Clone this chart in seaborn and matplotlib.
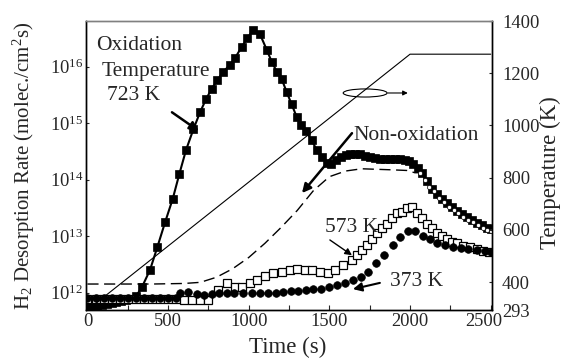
import numpy as np
import matplotlib
matplotlib.use("Agg")
import matplotlib.pyplot as plt
from matplotlib.patches import Ellipse
from matplotlib.transforms import ScaledTranslation
from matplotlib.ticker import MultipleLocator, NullLocator, FixedLocator
import seaborn as sns

# oxidation at 723 K (filled squares), log10 of rate
ox_time = [0, 30, 60, 90, 120, 150, 180, 210, 240, 270, 300, 337, 388, 433, 481, 529,
           570, 611, 657, 698, 735, 771, 806, 843, 884, 915, 957, 991, 1029, 1070,
           1111, 1143, 1174, 1204, 1235, 1266, 1297, 1322, 1355, 1390, 1421, 1452,
           1483, 1510, 1540, 1570, 1600, 1630, 1660, 1690, 1720, 1752, 1783, 1814,
           1845, 1876, 1907, 1938, 1968, 1995, 2021, 2047, 2073, 2104, 2135, 2166,
           2197, 2228, 2259, 2290, 2320, 2351, 2382, 2413, 2444, 2475, 2500]
ox_log = [11.74, 11.75, 11.76, 11.78, 11.79, 11.81, 11.83, 11.85, 11.87, 11.89, 11.93,
          12.09, 12.40, 12.80, 13.24, 13.66, 14.10, 14.52, 14.89, 15.19, 15.42, 15.61,
          15.76, 15.91, 16.03, 16.15, 16.35, 16.50, 16.65, 16.57, 16.30, 16.08, 15.91,
          15.78, 15.55, 15.33, 15.11, 14.96, 14.85, 14.70, 14.52, 14.40, 14.30, 14.28,
          14.34, 14.40, 14.44, 14.46, 14.46, 14.45, 14.42, 14.40, 14.38, 14.37, 14.37,
          14.37, 14.37, 14.36, 14.35, 14.33, 14.28, 14.20, 14.12, 13.97, 13.84, 13.74,
          13.66, 13.58, 13.51, 13.45, 13.39, 13.33, 13.28, 13.23, 13.19, 13.15, 13.12]

# non-oxidation (dashed), tail hidden under the oxidation squares
non_time = [0, 200, 400, 600, 700, 800, 900, 1000, 1100, 1200, 1300, 1400, 1500,
            1600, 1700, 1800, 1900, 1980, 2030]
non_log = [12.15, 12.15, 12.15, 12.16, 12.18, 12.27, 12.42, 12.62, 12.87, 13.15,
           13.45, 13.80, 14.05, 14.15, 14.19, 14.18, 14.17, 14.16, 14.12]
non_tail_time = [2060, 2090, 2120, 2150, 2180, 2210, 2240, 2270, 2300, 2330, 2360,
                 2390, 2420, 2450, 2480, 2500]
non_tail_log = [14.12, 14.00, 13.87, 13.79, 13.68, 13.60, 13.52, 13.46, 13.40, 13.34,
                13.29, 13.24, 13.19, 13.15, 13.11, 13.08]

# 573 K (open squares)
k573_time = [0, 50, 100, 150, 200, 250, 300, 350, 400, 450, 500, 550, 600, 650, 700,
             750, 811, 864, 915, 957, 1008, 1053, 1101, 1153, 1204, 1256, 1298, 1349,
             1390, 1442, 1494, 1535, 1587, 1638, 1670, 1700, 1732, 1763, 1794, 1825,
             1856, 1887, 1918, 1949, 1980, 2015, 2042, 2073, 2104, 2135, 2166, 2197,
             2228, 2259, 2290, 2331, 2372, 2413, 2454, 2492]
k573_log = [11.88, 11.88, 11.88, 11.88, 11.88, 11.88, 11.88, 11.88, 11.88, 11.88,
            11.88, 11.88, 11.86, 11.86, 11.86, 11.87, 12.05, 12.16, 12.09, 12.10,
            12.16, 12.23, 12.29, 12.34, 12.37, 12.40, 12.41, 12.40, 12.40, 12.36,
            12.35, 12.40, 12.49, 12.57, 12.66, 12.75, 12.84, 12.94, 13.05, 13.14,
            13.22, 13.31, 13.40, 13.43, 13.49, 13.52, 13.40, 13.31, 13.22, 13.14,
            13.06, 13.00, 12.94, 12.90, 12.87, 12.83, 12.80, 12.77, 12.74, 12.72]

# 373 K (filled circles)
k373_time = [0, 50, 100, 150, 200, 250, 300, 350, 400, 450, 500, 550, 574, 626, 677,
             723, 771, 818, 864, 909, 967, 1019, 1070, 1122, 1169, 1215, 1260, 1308,
             1355, 1401, 1448, 1498, 1549, 1597, 1649, 1696, 1742, 1789, 1841, 1893,
             1938, 1986, 2031, 2079, 2124, 2169, 2217, 2268, 2314, 2361, 2413, 2465,
             2500]
k373_log = [11.90, 11.90, 11.90, 11.90, 11.90, 11.90, 11.90, 11.90, 11.90, 11.90,
            11.90, 11.91, 12.00, 12.01, 11.97, 11.96, 11.97, 12.00, 11.99, 11.99,
            11.99, 11.99, 11.99, 12.00, 12.00, 12.01, 12.03, 12.03, 12.04, 12.06,
            12.07, 12.10, 12.13, 12.16, 12.22, 12.28, 12.37, 12.52, 12.66, 12.84,
            12.99, 13.08, 13.08, 13.00, 12.94, 12.88, 12.84, 12.81, 12.79, 12.77,
            12.75, 12.73, 12.72]

# temperature ramp (right axis)
temp_time = [0, 2000, 2500]
temp_K = [293, 1273, 1273]

time_ticks = [0, 500, 1000, 1500, 2000, 2500]
temp_ticks = [293, 400, 600, 800, 1000, 1200, 1400]

sns.set_style("ticks")
plt.rcParams['font.family'] = ['Liberation Serif', 'DejaVu Serif']
plt.rcParams['mathtext.fontset'] = 'custom'
plt.rcParams['mathtext.rm'] = 'Liberation Serif'
plt.rcParams['mathtext.it'] = 'Liberation Serif:italic'
plt.rcParams['mathtext.bf'] = 'Liberation Serif:bold'

fig = plt.figure(figsize=(5.62, 3.62), dpi=100)
ax = fig.add_axes([0.153, 0.1436, 0.723, 0.7983])
ax2 = ax.twinx()

p = lambda v: 10 ** np.array(v)

sns.lineplot(x=ox_time, y=p(ox_log), ax=ax, color='k', lw=1.5, marker='s', ms=6,
             markeredgecolor='k', markeredgewidth=0.5, estimator=None, sort=False, zorder=2)
sns.lineplot(x=non_time + non_tail_time, y=p(non_log + non_tail_log), ax=ax, color='k',
             lw=1.0, dashes=(8, 4), estimator=None, sort=False, zorder=1)
sns.lineplot(x=non_tail_time, y=p(non_tail_log), ax=ax, color='k', ls='none', marker='o',
             ms=3, markerfacecolor='white', markeredgecolor='k', markeredgewidth=0.5,
             estimator=None, sort=False, zorder=3)
sns.lineplot(x=k573_time, y=p(k573_log), ax=ax, color='k', ls='none', marker='s', ms=5.2,
             markerfacecolor='white', markeredgecolor='k', markeredgewidth=0.9,
             estimator=None, sort=False, zorder=3)
sns.lineplot(x=k373_time, y=p(k373_log), ax=ax, color='k', ls='none', marker='o', ms=5.5,
             markeredgecolor='k', markeredgewidth=0.5, estimator=None, sort=False, zorder=4)
sns.lineplot(x=temp_time, y=temp_K, ax=ax2, color='k', lw=0.8, estimator=None, sort=False)

ax.set_yscale('log')
ax.set_xlim(-9, 2510)
ax.set_ylim(10 ** 11.69, 10 ** 16.805)
ax.yaxis.set_minor_locator(NullLocator())
ax.set_xticks(time_ticks)
ax.xaxis.set_minor_locator(MultipleLocator(250))
ax2.set_ylim(293, 1400)
ax2.yaxis.set_major_locator(FixedLocator(temp_ticks))

for a in (ax, ax2):
    for s in a.spines.values():
        s.set_linewidth(1.0)
        s.set_color('k')
    a.spines['top'].set_color('0.5')
ax.tick_params(axis='x', which='both', direction='in', length=3.5, width=0.8,
               labelsize=13.3, pad=2, top=False)
ax.tick_params(axis='y', which='both', direction='in', length=2.5, width=0.8,
               labelsize=13.3, pad=2, right=False)
ax2.tick_params(axis='y', direction='in', length=2.5, width=0.8, labelsize=13.3, pad=7)

ax.set_xlabel('Time (s)', fontsize=16.5, va='center')
ax.xaxis.set_label_coords(0.497, -0.131)
ax.set_ylabel('H$_2$ Desorption Rate (molec./cm$^2$s)', fontsize=15, va='center')
ax.yaxis.set_label_coords(-0.153, 0.5)
ax2.set_ylabel('Temperature (K)', fontsize=16.5, va='center', rotation=90)
ax2.yaxis.set_label_coords(1.142, 0.477)

txt = dict(fontsize=15.5, ha='left', va='center', transform=ax.transAxes)
ax.text(0.025, 0.917, 'Oxidation', **txt)
ax.text(0.038, 0.825, 'Temperature', **txt)
ax.text(0.051, 0.744, '723 K', **txt)
ax.text(0.657, 0.6055, 'Non-oxidation', **txt)
ax.text(0.588, 0.284, '573 K', **txt)
ax.text(0.748, 0.098, '373 K', **txt)

thick = dict(arrowstyle='-|>', lw=1.8, color='k', mutation_scale=13, shrinkA=0, shrinkB=0)
thin = dict(arrowstyle='-|>', lw=1.0, color='k', mutation_scale=10, shrinkA=0, shrinkB=0)
ax.annotate('', xy=(690, 10 ** 14.86), xytext=(524, 10 ** 15.19), arrowprops=thick)
ax.annotate('', xy=(1330, 10 ** 13.76), xytext=(1640, 10 ** 14.82), arrowprops=thick)
ax.annotate('', xy=(1640, 10 ** 12.66), xytext=(1503, 10 ** 12.93), arrowprops=thin)
ax.annotate('', xy=(1646, 10 ** 12.06), xytext=(1813, 10 ** 12.17),
            arrowprops=dict(thick, lw=1.5))

ax.add_patch(Ellipse((0.687, 0.751), 0.108, 0.028, transform=ax.transAxes,
                     fill=False, lw=0.8, color='k'))
ax.annotate('', xy=(0.792, 0.751), xytext=(0.743, 0.751), xycoords='axes fraction',
            arrowprops=dict(arrowstyle='-|>', lw=0.8, color='k', mutation_scale=7,
                            shrinkA=0, shrinkB=0))

# the last time label sits a little left, clear of the "293" label
last = ax.xaxis.get_major_ticks()[-1].label1
last.set_transform(last.get_transform() + ScaledTranslation(-0.07, 0, fig.dpi_scale_trans))

fig.savefig('out.png', dpi=100)
